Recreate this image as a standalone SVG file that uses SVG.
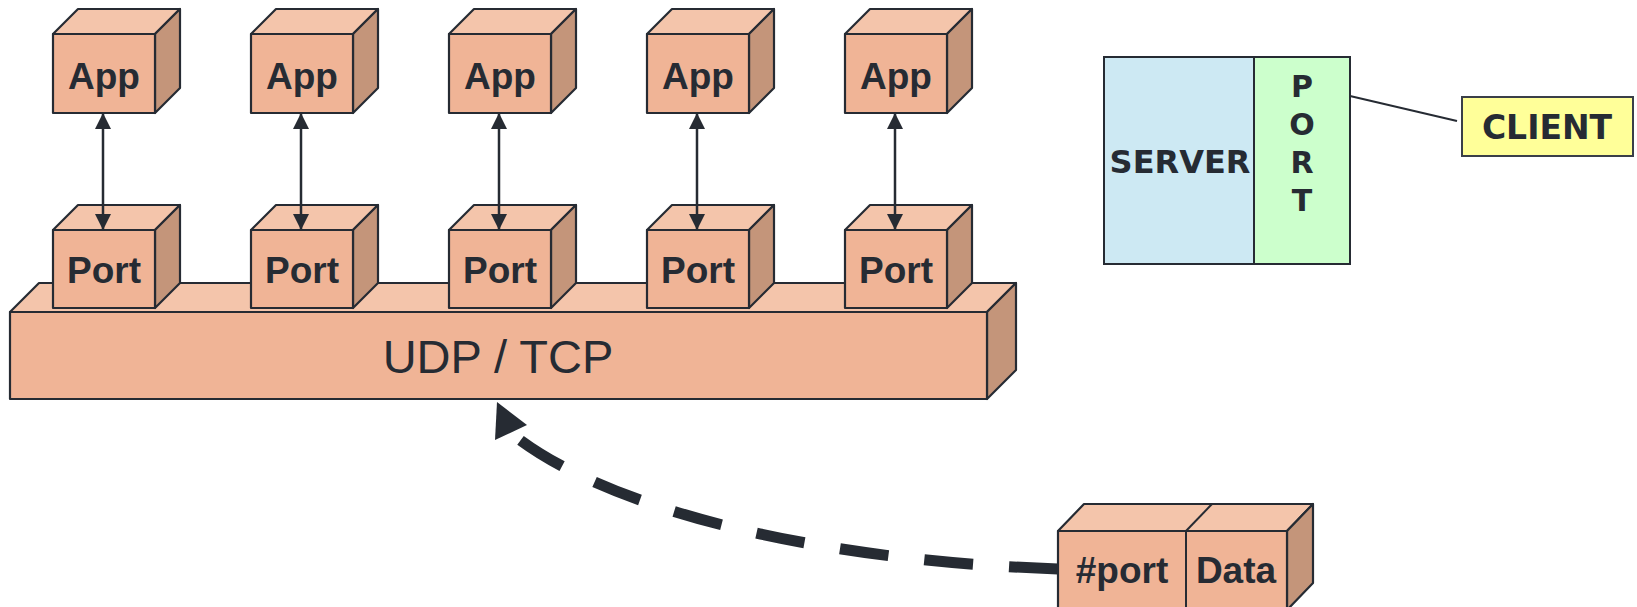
<svg xmlns="http://www.w3.org/2000/svg" width="1637" height="607" viewBox="0 0 1637 607">
  <style>
    .front { fill: #F0B496; stroke: #262B33; stroke-width: 2.2; stroke-linejoin: round; }
    .top { fill: #F4C5AB; stroke: #262B33; stroke-width: 2.2; stroke-linejoin: round; }
    .side { fill: #C4957A; stroke: #262B33; stroke-width: 2.2; stroke-linejoin: round; }
    .lbl { font-family: "Liberation Sans", Arial, sans-serif; font-weight: bold; font-size: 37px; fill: #262B33; text-anchor: middle; }
    .big { font-family: "Liberation Sans", Arial, sans-serif; font-size: 47px; fill: #262B33; text-anchor: middle; }
    .vlbl { font-family: "DejaVu Sans", Verdana, sans-serif; font-weight: bold; fill: #262B33; text-anchor: middle; }
    .link { stroke: #262B33; stroke-width: 2.5; fill: none; }
  </style>
  <defs>
    <marker id="ah" markerUnits="userSpaceOnUse" markerWidth="17" markerHeight="17" refX="16" refY="8.5" orient="auto-start-reverse" viewBox="0 0 17 17">
      <path d="M0,0.5 L16,8.5 L0,16.5 Z" fill="#262B33"/>
    </marker>
    <g id="cubeApp">
      <polygon class="top" points="0,34 25,9 127,9 102,34"/>
      <polygon class="side" points="102,34 127,9 127,88 102,113"/>
      <rect class="front" x="0" y="34" width="102" height="79"/>
      <text class="lbl" x="51" y="89">App</text>
    </g>
    <g id="cubePort">
      <polygon class="top" points="0,230 25,205 127,205 102,230"/>
      <polygon class="side" points="102,230 127,205 127,283 102,308"/>
      <rect class="front" x="0" y="230" width="102" height="78"/>
      <text class="lbl" x="51" y="283">Port</text>
    </g>
  </defs>

  <g id="udp_tcp">
    <polygon class="top" points="10,312 39,283 1016,283 987,312"/>
    <polygon class="side" points="987,312 1016,283 1016,370 987,399"/>
    <rect class="front" x="10" y="312" width="977" height="87"/>
    <text class="big" x="498" y="373">UDP / TCP</text>
  </g>

  <g id="app1" transform="translate(53,0)"><use href="#cubeApp"/></g>
  <g id="app2" transform="translate(251,0)"><use href="#cubeApp"/></g>
  <g id="app3" transform="translate(449,0)"><use href="#cubeApp"/></g>
  <g id="app4" transform="translate(647,0)"><use href="#cubeApp"/></g>
  <g id="app5" transform="translate(845,0)"><use href="#cubeApp"/></g>

  <g id="port1" transform="translate(53,0)"><use href="#cubePort"/></g>
  <g id="port2" transform="translate(251,0)"><use href="#cubePort"/></g>
  <g id="port3" transform="translate(449,0)"><use href="#cubePort"/></g>
  <g id="port4" transform="translate(647,0)"><use href="#cubePort"/></g>
  <g id="port5" transform="translate(845,0)"><use href="#cubePort"/></g>

  <g id="server">
    <rect x="1104" y="57" width="150" height="207" fill="#CDE9F3" stroke="#262B33" stroke-width="2"/>
    <text class="vlbl" x="1180" y="173" font-size="32">SERVER</text>
  </g>
  <g id="port_col">
    <rect x="1254" y="57" width="96" height="207" fill="#CCFFCC" stroke="#262B33" stroke-width="2"/>
    <text class="vlbl" x="1302" y="97" font-size="30">P</text>
    <text class="vlbl" x="1302" y="135" font-size="30">O</text>
    <text class="vlbl" x="1302" y="173" font-size="30">R</text>
    <text class="vlbl" x="1302" y="211" font-size="30">T</text>
  </g>
  <g id="client">
    <rect x="1462" y="97" width="171" height="59" fill="#FFFF99" stroke="#3A3F48" stroke-width="2"/>
    <text class="vlbl" x="1547" y="139" font-size="33">CLIENT</text>
  </g>

  <g id="connectors">
    <line class="link" x1="103" y1="113" x2="103" y2="230" marker-start="url(#ah)" marker-end="url(#ah)"/>
    <line class="link" x1="301" y1="113" x2="301" y2="230" marker-start="url(#ah)" marker-end="url(#ah)"/>
    <line class="link" x1="499" y1="113" x2="499" y2="230" marker-start="url(#ah)" marker-end="url(#ah)"/>
    <line class="link" x1="697" y1="113" x2="697" y2="230" marker-start="url(#ah)" marker-end="url(#ah)"/>
    <line class="link" x1="895" y1="113" x2="895" y2="230" marker-start="url(#ah)" marker-end="url(#ah)"/>
    <line x1="1350" y1="96" x2="1457" y2="121" stroke="#262B33" stroke-width="2"/>
    <path d="M1058,569 C800,560 600,505 511,433" fill="none" stroke="#262B33" stroke-width="11" stroke-dasharray="49 36"/>
    <polygon points="497,402 495,440 527,425" fill="#262B33"/>
  </g>

  <g id="packet">
    <polygon class="top" points="1058,531 1084,504 1313,504 1287,531"/>
    <line x1="1186" y1="531" x2="1212" y2="504" stroke="#262B33" stroke-width="2"/>
    <polygon class="side" points="1287,531 1313,504 1313,583 1287,610"/>
    <rect class="front" x="1058" y="531" width="229" height="79"/>
    <line x1="1186" y1="531" x2="1186" y2="610" stroke="#262B33" stroke-width="2"/>
    <text class="lbl" x="1122" y="583">#port</text>
    <text class="lbl" x="1236" y="583">Data</text>
  </g>
</svg>
